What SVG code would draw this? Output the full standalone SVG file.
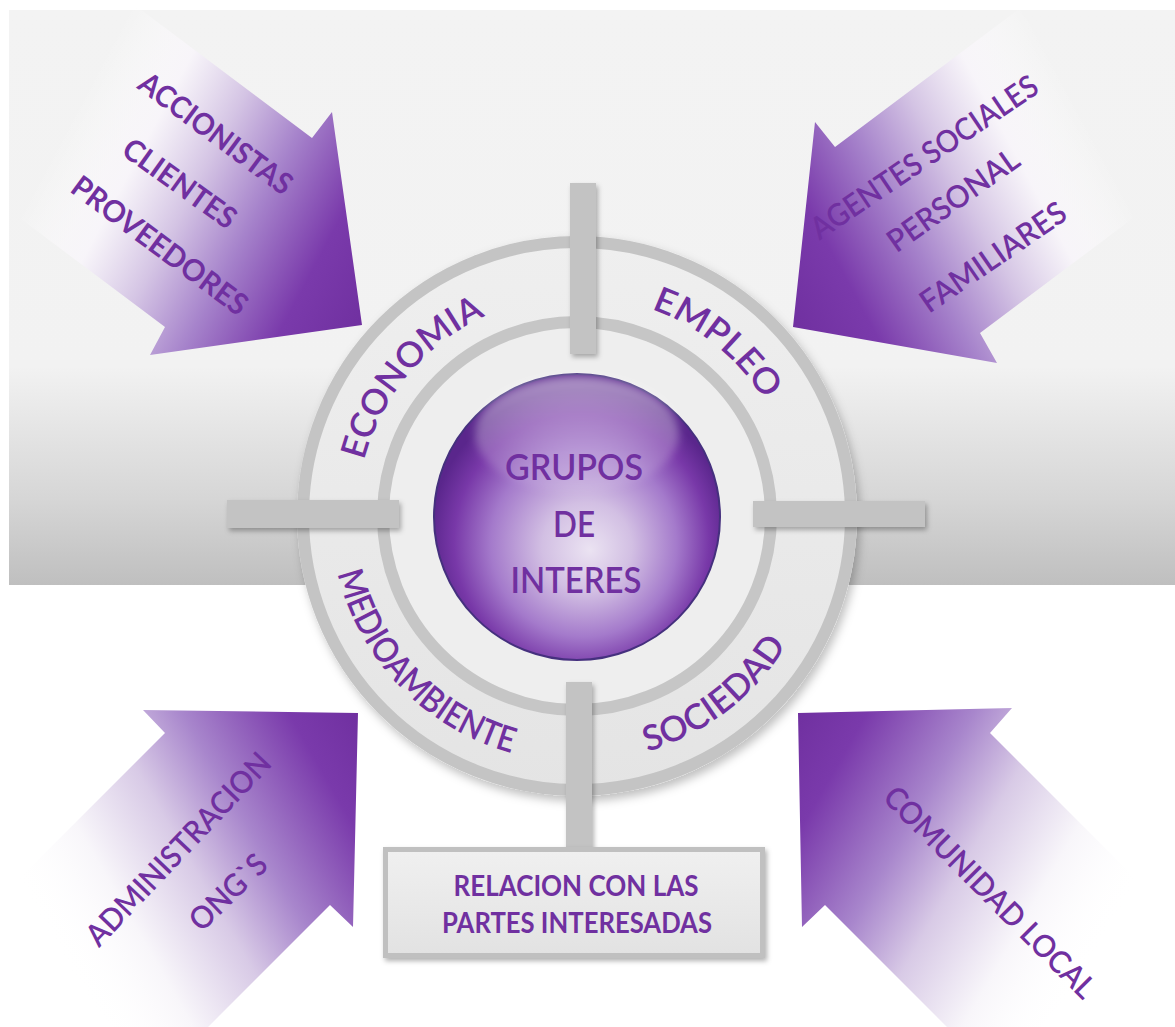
<svg xmlns="http://www.w3.org/2000/svg" width="1175" height="1027" viewBox="0 0 1175 1027">
<defs>
<style>
.lbl{font-family:Lato,"Open Sans","Liberation Sans",sans-serif;fill:#7030a0}
.bold{font-weight:700}
.ringtxt{font-size:35px;font-weight:600}
.arrtxt{font-size:30px}
.arrtxt2{font-size:31px;font-weight:600}
.ctr{font-size:36px;font-weight:600}
.bar{fill:#c3c3c3;filter:url(#sh)}
</style>
<filter id="sh" x="-30%" y="-30%" width="160%" height="160%"><feDropShadow dx="2" dy="3" stdDeviation="2.5" flood-color="#000" flood-opacity="0.3"/></filter>
<filter id="shRing" x="-10%" y="-10%" width="125%" height="125%"><feDropShadow dx="3" dy="5" stdDeviation="5" flood-color="#000" flood-opacity="0.25"/></filter>
<filter id="soft" x="-20%" y="-20%" width="140%" height="140%"><feGaussianBlur stdDeviation="4"/></filter>
<linearGradient id="bandG" x1="0" y1="10" x2="0" y2="585" gradientUnits="userSpaceOnUse">
<stop offset="0" stop-color="#f3f3f3"/>
<stop offset="0.62" stop-color="#f2f2f2"/>
<stop offset="0.85" stop-color="#d6d6d6"/>
<stop offset="1" stop-color="#bfbfbf"/>
</linearGradient>
<linearGradient id="gTL" gradientUnits="userSpaceOnUse" x1="22" y1="144" x2="362" y2="325">
<stop offset="0.08" stop-color="#ffffff" stop-opacity="0"/>
<stop offset="0.28" stop-color="#f8f5fa" stop-opacity="0.9"/>
<stop offset="0.45" stop-color="#d4c4e4"/>
<stop offset="0.62" stop-color="#a683cb"/>
<stop offset="0.82" stop-color="#7a3aab"/>
<stop offset="1" stop-color="#7030a0"/>
</linearGradient>
<linearGradient id="gTR" gradientUnits="userSpaceOnUse" x1="1133" y1="144" x2="793" y2="327">
<stop offset="0.08" stop-color="#ffffff" stop-opacity="0"/>
<stop offset="0.28" stop-color="#f8f5fa" stop-opacity="0.9"/>
<stop offset="0.45" stop-color="#d4c4e4"/>
<stop offset="0.62" stop-color="#a683cb"/>
<stop offset="0.82" stop-color="#7a3aab"/>
<stop offset="1" stop-color="#7030a0"/>
</linearGradient>
<linearGradient id="gBL" gradientUnits="userSpaceOnUse" x1="12" y1="913" x2="358" y2="713">
<stop offset="0.05" stop-color="#ffffff" stop-opacity="0"/>
<stop offset="0.25" stop-color="#f8f6fa"/>
<stop offset="0.45" stop-color="#d8cae6"/>
<stop offset="0.62" stop-color="#a886cc"/>
<stop offset="0.85" stop-color="#7a3aab"/>
<stop offset="1" stop-color="#7030a0"/>
</linearGradient>
<linearGradient id="gBR" gradientUnits="userSpaceOnUse" x1="1144" y1="913" x2="798" y2="713">
<stop offset="0.05" stop-color="#ffffff" stop-opacity="0"/>
<stop offset="0.25" stop-color="#f8f6fa"/>
<stop offset="0.45" stop-color="#d8cae6"/>
<stop offset="0.62" stop-color="#a886cc"/>
<stop offset="0.85" stop-color="#7a3aab"/>
<stop offset="1" stop-color="#7030a0"/>
</linearGradient>
<linearGradient id="discG" x1="0" y1="0" x2="0" y2="1">
<stop offset="0" stop-color="#efefef"/>
<stop offset="1" stop-color="#e4e4e4"/>
</linearGradient>
<radialGradient id="sphG" cx="580" cy="540" r="150" fx="590" fy="550" gradientUnits="userSpaceOnUse">
<stop offset="0" stop-color="#ebe3f2"/>
<stop offset="0.3" stop-color="#d2bfe3"/>
<stop offset="0.62" stop-color="#a47acb"/>
<stop offset="0.85" stop-color="#7838a8"/>
<stop offset="1" stop-color="#5a268c"/>
</radialGradient>
<linearGradient id="glossG" x1="0" y1="0" x2="0" y2="1">
<stop offset="0" stop-color="#ffffff" stop-opacity="0.5"/>
<stop offset="1" stop-color="#ffffff" stop-opacity="0.08"/>
</linearGradient>
<linearGradient id="boxG" x1="0" y1="0" x2="0" y2="1">
<stop offset="0" stop-color="#f0f0f0"/>
<stop offset="1" stop-color="#e2e2e2"/>
</linearGradient>
<path id="pEco" d="M 360.3 477.8 A 220 220 0 0 1 501.8 309.3"/>
<path id="pEmp" d="M 611.4 298.7 A 220 220 0 0 1 782.4 437.2"/>
<path id="pMed" d="M 331.6 533.2 A 246 246 0 0 0 551.3 760.6"/>
<path id="pSoc" d="M 568.4 761.9 A 246 246 0 0 0 816.7 571.3"/>
</defs>

<rect width="1175" height="1027" fill="#ffffff"/>
<rect id="band" x="9" y="10" width="1166" height="575" fill="url(#bandG)"/>

<g id="arrow-tl">
<polygon points="128,0 312,138 332,112 362,325 150,355 165,327 -19,189" fill="url(#gTL)"/>
<g class="lbl bold arrtxt">
<text transform="translate(216,133) rotate(36.5)" x="0" y="11" text-anchor="middle" textLength="183" lengthAdjust="spacingAndGlyphs">ACCIONISTAS</text>
<text transform="translate(180,183) rotate(35.5)" x="0" y="11" text-anchor="middle" textLength="132" lengthAdjust="spacingAndGlyphs">CLIENTES</text>
<text transform="translate(160,245) rotate(36.6)" x="0" y="11" text-anchor="middle" textLength="211" lengthAdjust="spacingAndGlyphs">PROVEEDORES</text>
</g>
</g>

<g id="arrow-tr">
<polygon points="1019,9 835,147 815,122 793,327 997,363 980,333 1164,195" fill="url(#gTR)"/>
<g class="lbl arrtxt2">
<text transform="translate(924,157) rotate(-34)" x="0" y="11" text-anchor="middle" textLength="267" lengthAdjust="spacingAndGlyphs">AGENTES SOCIALES</text>
<text transform="translate(953,200) rotate(-35.3)" x="0" y="11" text-anchor="middle" textLength="154" lengthAdjust="spacingAndGlyphs">PERSONAL</text>
<text transform="translate(993,257) rotate(-34.4)" x="0" y="11" text-anchor="middle" textLength="170" lengthAdjust="spacingAndGlyphs">FAMILIARES</text>
</g>
</g>

<g id="arrow-bl">
<polygon points="-5,903 165,733 143,710 358,713 353,927 330,905 160,1075" fill="url(#gBL)"/>
<g class="lbl arrtxt2">
<text transform="translate(178,849) rotate(-46.5)" x="0" y="11" text-anchor="middle" textLength="253" lengthAdjust="spacingAndGlyphs">ADMINISTRACION</text>
<text transform="translate(228,892) rotate(-44)" x="0" y="11" text-anchor="middle" textLength="95" lengthAdjust="spacingAndGlyphs">ONG`S</text>
</g>
</g>

<g id="arrow-br">
<polygon points="1160,903 990,733 1012,708 798,713 802,927 825,905 995,1075" fill="url(#gBR)"/>
<g class="lbl arrtxt2">
<text transform="translate(990,892) rotate(45)" x="0" y="11" text-anchor="middle" textLength="285" lengthAdjust="spacingAndGlyphs">COMUNIDAD LOCAL</text>
</g>
</g>

<g id="ring">
<circle cx="577" cy="516" r="280" fill="url(#discG)" filter="url(#shRing)"/>
<circle cx="577" cy="516" r="274" fill="none" stroke="#c4c4c4" stroke-width="12"/>
<circle cx="577" cy="516" r="194" fill="#eeeeee" stroke="#c6c6c6" stroke-width="12"/>
<g class="lbl ringtxt">
<text><textPath href="#pEco" startOffset="50%" text-anchor="middle" textLength="195" lengthAdjust="spacingAndGlyphs">ECONOMIA</textPath></text>
<text><textPath href="#pEmp" startOffset="50%" text-anchor="middle" textLength="148" lengthAdjust="spacingAndGlyphs">EMPLEO</textPath></text>
<text><textPath href="#pMed" startOffset="50%" text-anchor="middle" textLength="262" lengthAdjust="spacingAndGlyphs">MEDIOAMBIENTE</textPath></text>
<text><textPath href="#pSoc" startOffset="50%" text-anchor="middle" textLength="179" lengthAdjust="spacingAndGlyphs">SOCIEDAD</textPath></text>
</g>
</g>

<g id="connectors">
<rect class="bar" x="570" y="183" width="26" height="171"/>
<rect class="bar" x="566" y="682" width="26" height="168"/>
<rect class="bar" x="227" y="500" width="172" height="28"/>
<rect class="bar" x="753" y="501" width="172" height="26"/>
</g>

<g id="center">
<circle cx="577" cy="517" r="143" fill="url(#sphG)" stroke="#45307e" stroke-width="2"/>
<ellipse cx="577" cy="434" rx="102" ry="58" fill="url(#glossG)" filter="url(#soft)"/>
<g class="lbl ctr">
<text x="574" y="480" text-anchor="middle" textLength="138" lengthAdjust="spacingAndGlyphs">GRUPOS</text>
<text x="574" y="537" text-anchor="middle" textLength="42" lengthAdjust="spacingAndGlyphs">DE</text>
<text x="576" y="593" text-anchor="middle" textLength="131" lengthAdjust="spacingAndGlyphs">INTERES</text>
</g>
</g>

<g id="box">
<rect x="385.5" y="849.5" width="377" height="106" fill="url(#boxG)" stroke="#c0c0c0" stroke-width="5" filter="url(#sh)"/>
<g class="lbl bold" font-size="29">
<text x="576" y="896" text-anchor="middle" textLength="245" lengthAdjust="spacingAndGlyphs">RELACION CON LAS</text>
<text x="577" y="933" text-anchor="middle" textLength="270" lengthAdjust="spacingAndGlyphs">PARTES INTERESADAS</text>
</g>
</g>
</svg>
